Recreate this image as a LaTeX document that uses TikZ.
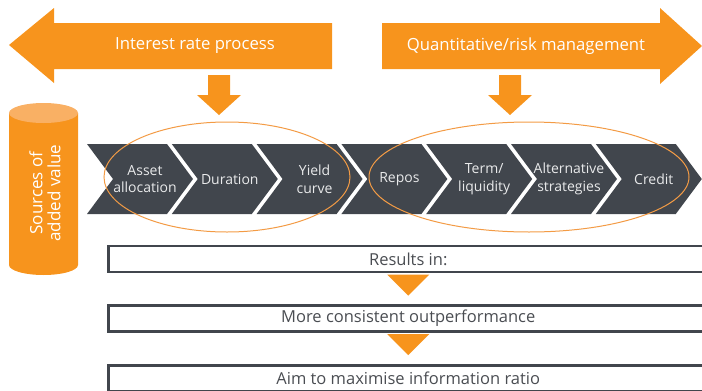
\documentclass[tikz,border=0pt]{standalone}
\usepackage{fontspec}
\setmainfont{Open Sans}
\usetikzlibrary{calc}
\definecolor{qorange}{HTML}{F7941D}
\definecolor{qlight}{HTML}{F9B064}
\definecolor{qdark}{HTML}{41464D}
\definecolor{qring}{HTML}{F39B45}
\definecolor{qchevtxt}{HTML}{E9EAEB}
\definecolor{qboxtxt}{HTML}{4A4D52}
\begin{document}
\begin{tikzpicture}[x=1pt,y=-1pt,
  bigtxt/.style={text=white,font=\fontsize{16.7}{18}\selectfont},
  chevtxt/.style={text=qchevtxt,align=center,font=\fontsize{14}{17.5}\selectfont},
  resbox/.style={draw=qdark,line width=2.5pt,minimum width=600pt,minimum height=26pt,anchor=west,text=qboxtxt,font=\fontsize{16.5}{18}\selectfont},
  ring/.style={draw=qring,line width=1pt}]
\useasboundingbox (0,0) rectangle (702,391);
\fill[qorange] (9,45) -- (54,8) -- (54,23) -- (332,23) -- (332,69) -- (54,69) -- (54,83) -- cycle;
\fill[qorange] (702,46) -- (660,8) -- (660,23) -- (382,23) -- (382,69) -- (660,69) -- (660,84) -- cycle;
\node[bigtxt] (irp) at (195,46) {Interest rate process};
\node[bigtxt] (qrm) at (526,46) {Quantitative/risk management};
\foreach \x in {219,510}{
  \fill[qorange] (\x-11,75) -- (\x+11,75) -- (\x+11,95) -- (\x+22,95) -- (\x,115) -- (\x-22,95) -- (\x-11,95) -- cycle;
}
\fill[qorange] (9,113) -- (9,265) arc[start angle=180,end angle=0,x radius=34.5,y radius=10] -- (78,113) -- cycle;
\fill[qlight] (43.5,113) ellipse[x radius=34.5,y radius=10];
\node[bigtxt,rotate=90,align=center,font=\fontsize{17}{18}\selectfont] (src) at (45,193) {Sources of\\added value};
\foreach \i/\lbl in {0/{Asset\\allocation},1/Duration,2/{Yield\\curve},3/Repos,4/{Term/\\liquidity},5/{Alternative\\strategies},6/Credit}{
  \pgfmathsetmacro\cx{87+84.8*\i}
  \fill[qdark] (\cx,144) -- ++(80,0) -- ++(26,35) -- ++(-26,35) -- ++(-80,0) -- ++(26,-35) -- cycle;
  \node[chevtxt] (chev\i) at (\cx+58,179) {\lbl};
}
\draw[ring] (227,177) ellipse[x radius=123,y radius=55];
\draw[ring] (529,177) ellipse[x radius=160,y radius=55];
\node[resbox] (res) at (107,259) {Results in:};
\node[resbox] (perf) at (107,318.5) {More consistent outperformance};
\node[resbox] (ratio) at (107,378.5) {Aim to maximise information ratio};
\fill[qorange] ([yshift=-1.4pt]res.south) ++(-21,0) -- ++(42,0) -- ++(-21,21) -- cycle;
\fill[qorange] ([yshift=-1.4pt]perf.south) ++(-21,0) -- ++(42,0) -- ++(-21,21) -- cycle;
\end{tikzpicture}
\end{document}
